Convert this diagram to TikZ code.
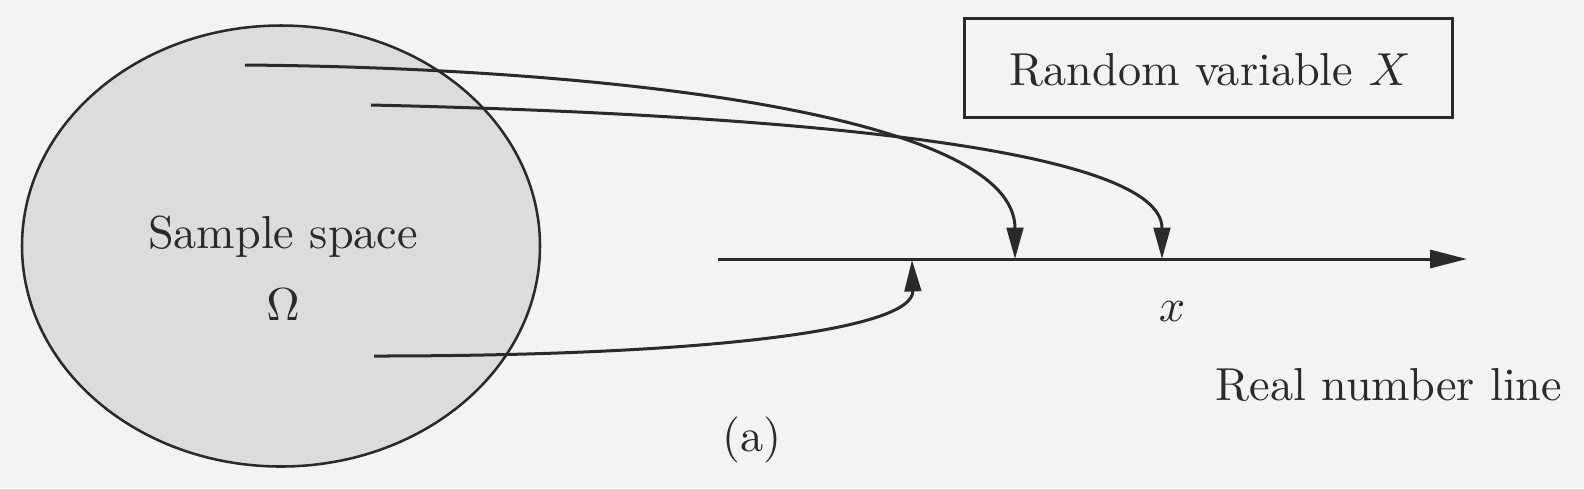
\documentclass[tikz,border=0pt]{standalone}
\usetikzlibrary{arrows.meta,shapes.geometric}
\definecolor{bgc}{HTML}{F3F3F3}
\definecolor{fillc}{HTML}{DCDCDC}
\definecolor{ink}{HTML}{2A2A2A}
\begin{document}
\begin{tikzpicture}[x=0.2163pt,y=-0.2163pt,
  conn/.style={draw=ink,line width=0.65pt,-{Triangle[length=6.8pt,width=3.6pt]}},
  lbl/.style={inner sep=0pt,text=ink}]
\fill[bgc] (0,0) rectangle (1584,488);
\useasboundingbox (0,0) rectangle (1584,488);
\node[draw=ink,line width=0.55pt,fill=fillc,shape=ellipse,minimum width=518*0.2163pt,minimum height=441*0.2163pt,inner sep=0pt] (omega) at (281,246) {};
\node[lbl] (ss) at (283,237) {Sample space};
\node[lbl] (om) at (283,305) {$\Omega$};
\node[draw=ink,line width=0.65pt,minimum width=488*0.2163pt,minimum height=99*0.2163pt,inner sep=0pt] (rv) at (1208,67.5) {};
\node[lbl] (rvt) at (1210,70) {Random variable $X$};
\coordinate (a0) at (718,259);
\coordinate (a1) at (1467,259);
\draw[draw=ink,line width=0.65pt,-{Triangle[length=8pt,width=3.9pt]}] (a0) -- (a1);
\coordinate (p1) at (245,65);
\coordinate (p2) at (371,105);
\coordinate (p3) at (374,356);
\coordinate (t1) at (1015,259);
\coordinate (t2) at (1162,259);
\coordinate (t3) at (912,260);
\draw[conn] (p1) .. controls (610,68) and (1015,115) .. (t1);
\draw[conn] (p2) .. controls (808,115) and (1162,150) .. (t2);
\draw[conn] (p3) .. controls (707,356) and (914,330) .. (t3);
\node[lbl] (xl) at (1172,312) {$x$};
\node[lbl] (rnl) at (1389,385) {Real number line};
\node[lbl] (cap) at (752,440) {(a)};
\end{tikzpicture}
\end{document}
